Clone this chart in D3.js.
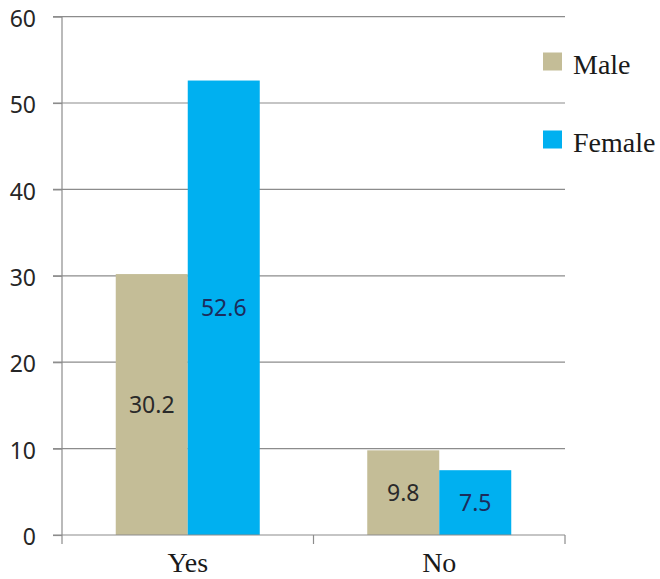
<!DOCTYPE html>
<html>
<head>
<meta charset="utf-8">
<script src="https://cdn.jsdelivr.net/npm/d3@7"></script>
<style>
  html, body { margin: 0; padding: 0; background: #fff; }
  svg { display: block; }
</style>
</head>
<body>
<svg id="chart" width="660" height="579"></svg>
<script>
const categories = ["Yes", "No"];
const seriesNames = ["Male", "Female"];
const maleValues = [30.2, 9.8];
const femaleValues = [52.6, 7.5];
const yTicks = [0, 10, 20, 30, 40, 50, 60];
const colors = ["#C4BD97", "#00B0F0"];
const labelColors = ["#2a2a2a", "#1c2c5c"];

const series = [maleValues, femaleValues];

const svg = d3.select("#chart");
const plotLeft = 62, plotRight = 565, plotTop = 16.6, plotBottom = 535;
const sansFont = "Noto Sans, Open Sans, sans-serif";
const serifFont = "Liberation Serif, Times New Roman, serif";

const x = d3.scaleBand().domain(categories).range([plotLeft, plotRight]).padding(0);
const y = d3.scaleLinear().domain([0, 60]).range([plotBottom, plotTop]);
const barW = 72;
const inner = d3.scaleBand().domain(seriesNames).range([-barW, barW]).padding(0);

// horizontal gridlines
svg.append("g").selectAll("line").data(yTicks.filter(t => t > 0)).join("line")
  .attr("x1", plotLeft - 9).attr("x2", plotRight)
  .attr("y1", d => y(d)).attr("y2", d => y(d))
  .attr("stroke", "#8c8c8c").attr("stroke-width", 1.2);

// bars
const groups = svg.append("g").selectAll("g").data(categories).join("g")
  .attr("transform", d => `translate(${x(d) + x.bandwidth() / 2},0)`);

groups.selectAll("rect").data((c, i) => seriesNames.map((s, j) => ({ s, j, v: series[j][i] })))
  .join("rect")
  .attr("x", d => inner(d.s))
  .attr("width", inner.bandwidth())
  .attr("y", d => y(d.v))
  .attr("height", d => y(0) - y(d.v))
  .attr("fill", d => colors[d.j]);

// value labels centred in each bar
groups.selectAll("text").data((c, i) => seriesNames.map((s, j) => ({ s, j, v: series[j][i] })))
  .join("text")
  .attr("x", d => inner(d.s) + inner.bandwidth() / 2)
  .attr("y", d => (y(d.v) + y(0)) / 2)
  .attr("dy", "0.36em")
  .attr("text-anchor", "middle")
  .attr("font-family", sansFont)
  .attr("font-size", 23)
  .attr("fill", d => labelColors[d.j])
  .text(d => d.v.toFixed(1));

// y axis
const yAxis = d3.axisLeft(y).tickValues(yTicks).tickSize(9).tickPadding(17).tickFormat(d3.format("d"));
const yg = svg.append("g").attr("transform", `translate(${plotLeft},0)`).call(yAxis);
yg.select(".domain").attr("d", `M0,${plotTop}V${plotBottom + 9}`);
yg.selectAll("line, path").attr("stroke", "#8c8c8c").attr("stroke-width", 1.2);
yg.selectAll("text").attr("font-family", sansFont)
  .attr("font-size", 23).attr("dy", "0.42em").attr("fill", "#262626");

// x axis
const xg = svg.append("g").attr("transform", `translate(0,${plotBottom})`);
xg.append("line").attr("x1", plotLeft - 9).attr("x2", plotRight).attr("y1", 0).attr("y2", 0)
  .attr("stroke", "#8c8c8c").attr("stroke-width", 1.2);
const boundaries = categories.map(c => x(c) + x.bandwidth());
xg.selectAll("line.tick").data(boundaries).join("line").attr("class", "tick")
  .attr("x1", d => d).attr("x2", d => d).attr("y1", 0).attr("y2", 9)
  .attr("stroke", "#8c8c8c").attr("stroke-width", 1.2);
xg.selectAll("text").data(categories).join("text")
  .attr("x", d => x(d) + x.bandwidth() / 2)
  .attr("y", 37)
  .attr("text-anchor", "middle")
  .attr("font-family", serifFont)
  .attr("font-size", 28)
  .attr("fill", "#1a1a1a")
  .text(d => d);

// legend
const legend = svg.append("g").selectAll("g").data(seriesNames).join("g")
  .attr("transform", (d, i) => `translate(543,${52.5 + i * 78})`);
legend.append("rect").attr("width", 19).attr("height", 18).attr("fill", (d, i) => colors[i]);
legend.append("text").attr("x", 30).attr("y", 21)
  .attr("font-family", serifFont)
  .attr("font-size", 28).attr("fill", "#1a1a1a")
  .text(d => d);
</script>
</body>
</html>
